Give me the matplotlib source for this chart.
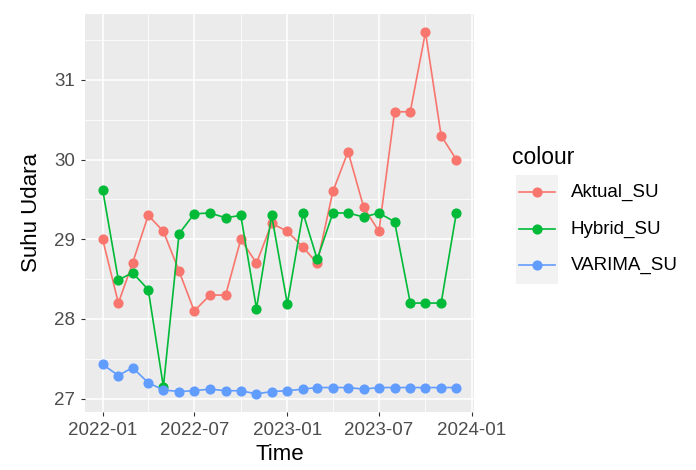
import numpy as np
import pandas as pd
import matplotlib
matplotlib.use("Agg")
import matplotlib.pyplot as plt
import matplotlib.dates as mdates
from matplotlib.lines import Line2D
from matplotlib.patches import Rectangle

plt.rcParams['font.family'] = ['Liberation Sans', 'DejaVu Sans']

months = pd.date_range("2022-01-01", "2023-12-01", freq="MS")

aktual_su = [29.0, 28.2, 28.7, 29.3, 29.1, 28.6, 28.1, 28.3, 28.3, 29.0, 28.7, 29.2,
             29.1, 28.9, 28.7, 29.6, 30.1, 29.4, 29.1, 30.6, 30.6, 31.6, 30.3, 30.0]
hybrid_su = [29.62, 28.49, 28.58, 28.37, 27.15, 29.07, 29.32, 29.33, 29.27, 29.30, 28.13, 29.30,
             28.19, 29.33, 28.75, 29.33, 29.33, 29.28, 29.33, 29.22, 28.20, 28.20, 28.20, 29.33]
varima_su = [27.43, 27.29, 27.39, 27.20, 27.11, 27.09, 27.10, 27.12, 27.10, 27.10, 27.06, 27.09,
             27.10, 27.12, 27.14, 27.14, 27.14, 27.12, 27.14, 27.14, 27.14, 27.14, 27.14, 27.14]

series = [("Aktual_SU", aktual_su, "#F8766D"),
          ("Hybrid_SU", hybrid_su, "#00BA38"),
          ("VARIMA_SU", varima_su, "#619CFF")]

fig = plt.figure(figsize=(6.96, 4.70), dpi=100)
ax = fig.add_axes([85/696, 58/470, 389/696, 398/470])
ax.set_facecolor("#EBEBEB")

for name, vals, col in series:
    ax.plot(months, vals, color=col, linewidth=1.2, marker="o", markersize=6.3, label=name, zorder=3)

# limits with ggplot-style 5% expansion
x0, x1 = mdates.date2num(months[0]), mdates.date2num(months[-1])
dx = (x1 - x0) * 0.05
ax.set_xlim(x0 - dx, x1 + dx)
allv = aktual_su + hybrid_su + varima_su
lo, hi = min(allv), max(allv)
dy = (hi - lo) * 0.05
ax.set_ylim(lo - dy, hi + dy)

xt = pd.to_datetime(["2022-01-01", "2022-07-01", "2023-01-01", "2023-07-01", "2024-01-01"])
xm = pd.to_datetime(["2022-04-01", "2022-10-01", "2023-04-01", "2023-10-01"])
ax.set_xticks(mdates.date2num(xt))
ax.set_xticks(mdates.date2num(xm), minor=True)
ax.xaxis.set_major_formatter(mdates.DateFormatter("%Y-%m"))
ax.set_yticks([27, 28, 29, 30, 31])
ax.set_yticks([27.5, 28.5, 29.5, 30.5, 31.5], minor=True)

ax.grid(which="major", color="white", linewidth=1.1, zorder=0)
ax.grid(which="minor", color="white", linewidth=0.55, zorder=0)
ax.set_axisbelow(True)
for s in ax.spines.values():
    s.set_visible(False)
ax.tick_params(which="major", length=3, color="#333333", labelsize=13.5, labelcolor="#4D4D4D", pad=4)
ax.tick_params(which="minor", length=0)

ax.set_xlabel("Time", fontsize=16, labelpad=4)
ax.set_ylabel("Suhu Udara", fontsize=16, labelpad=9)

# legend drawn in figure pixels
H = 470
fig.text(512/696, 1 - 157/H, "colour", fontsize=16.5, ha="left", va="center")
fig.add_artist(Rectangle((516/696, 1 - 284/H), 42/696, 109/H, transform=fig.transFigure,
                         facecolor="#F2F2F2", edgecolor="none"))
ys = [192, 229, 265]
for (name, vals, col), y in zip(series, ys):
    yy = 1 - y/H
    fig.add_artist(Line2D([519/696, 555/696], [yy, yy], transform=fig.transFigure,
                          color=col, linewidth=1.2))
    fig.add_artist(Line2D([537/696], [yy], transform=fig.transFigure,
                          color=col, marker="o", markersize=6.3, linestyle="none"))
    fig.text(571/696, yy, name, fontsize=13.5, ha="left", va="center")

fig.savefig("out.png", dpi=100)
